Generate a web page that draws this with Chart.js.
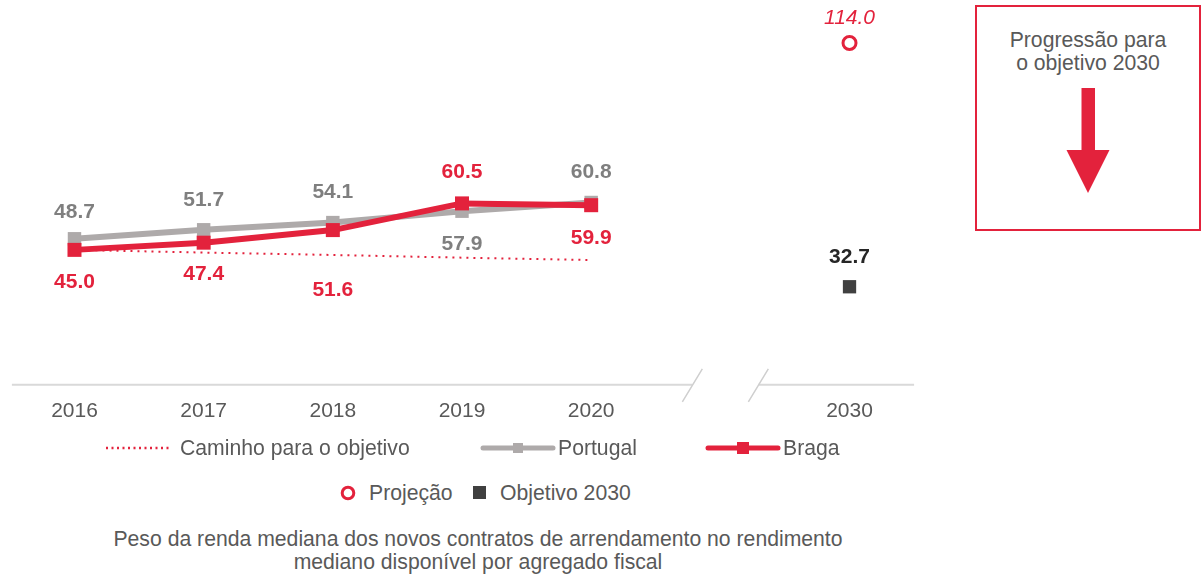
<!DOCTYPE html>
<html>
<head>
<meta charset="utf-8">
<script src="https://cdn.jsdelivr.net/npm/chart.js@4.4.0/dist/chart.umd.min.js"></script>
<style>
  html, body { margin: 0; padding: 0; background: #fff; }
  body { width: 1203px; height: 577px; position: relative; overflow: hidden; font-family: "Liberation Sans", Arial, sans-serif; color: #595959; }
  #wrap { position: absolute; left: 0; top: 0; width: 924px; height: 438px; }
  .lg { position: absolute; font-size: 21.2px; line-height: 24px; white-space: nowrap; color: #595959; }
  .sym { position: absolute; }
  #caption { position: absolute; left: 0; top: 527px; width: 956px; text-align: center; font-family: "Liberation Sans", Arial, sans-serif; font-size: 21.2px; line-height: 23px; color: #595959; }
  #box { position: absolute; left: 975px; top: 5px; width: 226px; height: 226px; box-sizing: border-box; border: 2px solid #E3223C; text-align: center; }
  #box .t { margin-top: 21px; font-size: 21.2px; line-height: 23px; color: #595959; }
</style>
</head>
<body>
<div id="wrap"><canvas id="c"></canvas></div>

<div class="sym" style="left:104px;top:440px;"><svg width="70" height="16"><line x1="2" y1="8" x2="68" y2="8" stroke="#E3223C" stroke-width="2.5" stroke-dasharray="2,3.5"/></svg></div>
<div class="lg" style="left:180px;top:436px;">Caminho para o objetivo</div>

<div class="sym" style="left:478px;top:440px;"><svg width="80" height="16"><line x1="5" y1="8" x2="75" y2="8" stroke="#AEAAAA" stroke-width="5" stroke-linecap="round"/><rect x="35" y="3" width="10" height="10" fill="#AEAAAA"/></svg></div>
<div class="lg" style="left:558px;top:436px;">Portugal</div>

<div class="sym" style="left:703px;top:440px;"><svg width="80" height="16"><line x1="5" y1="8" x2="75" y2="8" stroke="#E3223C" stroke-width="5" stroke-linecap="round"/><rect x="34" y="2" width="12" height="12" fill="#E3223C"/></svg></div>
<div class="lg" style="left:783px;top:436px;">Braga</div>

<div class="sym" style="left:339px;top:484px;"><svg width="18" height="18"><circle cx="9" cy="9" r="5.8" fill="#fff" stroke="#E3223C" stroke-width="3"/></svg></div>
<div class="lg" style="left:369px;top:481px;">Projeção</div>

<div class="sym" style="left:473px;top:486px;"><svg width="14" height="14"><rect x="0" y="0" width="13" height="13" fill="#404040"/></svg></div>
<div class="lg" style="left:500px;top:481px;">Objetivo 2030</div>

<div id="caption">Peso da renda mediana dos novos contratos de arrendamento no rendimento<br>mediano disponível por agregado fiscal</div>

<div id="box">
  <div class="t">Progressão para<br>o objetivo 2030</div>
  <svg style="position:absolute;left:0;top:0;" width="222" height="222">
    <rect x="104.5" y="81" width="13.5" height="63" fill="#E3223C"/>
    <polygon points="89.5,143 132.5,143 111,186" fill="#E3223C"/>
  </svg>
</div>

<script>
const categories = ['2016', '2017', '2018', '2019', '2020', '', '2030'];
const portugalValues = [48.7, 51.7, 54.1, 57.9, 60.8, null, null];
const bragaValues = [45.0, 47.4, 51.6, 60.5, 59.9, null, null];
const caminhoValues = [45.0, 44.1, 43.3, 42.4, 41.6, null, null];
const projecaoValues = [null, null, null, null, null, null, 114.0];
const objetivoValues = [null, null, null, null, null, null, 32.7];

const RED = '#E3223C';
const GREY = '#AEAAAA';
const FONT = '"Liberation Sans", Arial, sans-serif';

const labelPlugin = {
  id: 'pointLabels',
  afterDatasetsDraw(chart) {
    const ctx = chart.ctx;
    chart.data.datasets.forEach((ds, i) => {
      if (!ds.labelOffsets) return;
      const meta = chart.getDatasetMeta(i);
      ctx.save();
      ctx.font = ds.labelFont;
      ctx.fillStyle = ds.labelColor;
      ctx.textAlign = 'center';
      ctx.textBaseline = 'middle';
      meta.data.forEach((pt, j) => {
        const v = ds.data[j];
        if (v === null || v === undefined) return;
        ctx.fillText(v.toFixed(1), pt.x, pt.y + ds.labelOffsets[j]);
      });
      ctx.restore();
    });
  }
};

const axisPlugin = {
  id: 'brokenAxis',
  beforeDatasetsDraw(chart) {
    const ctx = chart.ctx;
    const x = chart.scales.x, y = chart.scales.y;
    const y0 = y.getPixelForValue(0);
    const gap = x.getPixelForValue(5);
    const left = chart.chartArea.left + 2;
    const right = chart.chartArea.right;
    const b1 = gap - 28, b2 = gap + 38;
    ctx.save();
    ctx.strokeStyle = '#D9D9D9';
    ctx.lineWidth = 2;
    ctx.beginPath();
    ctx.moveTo(left, y0); ctx.lineTo(b1, y0);
    ctx.moveTo(b2, y0); ctx.lineTo(right, y0);
    ctx.stroke();
    ctx.strokeStyle = '#CFCFCF';
    ctx.lineWidth = 1.5;
    ctx.beginPath();
    ctx.moveTo(b1 + 10, y0 - 16); ctx.lineTo(b1 - 10, y0 + 17);
    ctx.moveTo(b2 + 10, y0 - 16); ctx.lineTo(b2 - 10, y0 + 17);
    ctx.stroke();
    ctx.restore();
  }
};

new Chart(document.getElementById('c'), {
  type: 'line',
  data: {
    labels: categories,
    datasets: [
      {
        label: 'Braga', data: bragaValues,
        borderColor: RED, backgroundColor: RED, borderWidth: 6,
        pointStyle: 'rect', pointRadius: 9.9, pointBorderWidth: 0,
        tension: 0,
        labelOffsets: [32, 32, 60, -31, 33],
        labelFont: 'bold 21px ' + FONT, labelColor: RED
      },
      {
        label: 'Portugal', data: portugalValues,
        borderColor: GREY, backgroundColor: GREY, borderWidth: 6,
        pointStyle: 'rect', pointRadius: 9.5, pointBorderWidth: 0,
        tension: 0,
        labelOffsets: [-27, -30, -30, 33, -30],
        labelFont: 'bold 21px ' + FONT, labelColor: '#7F7F7F'
      },
      {
        label: 'Caminho para o objetivo', data: caminhoValues,
        borderColor: RED, borderWidth: 2, borderDash: [2, 5],
        pointRadius: 0, tension: 0
      },
      {
        label: 'Projeção', data: projecaoValues,
        borderColor: RED, backgroundColor: '#fff', showLine: false,
        pointStyle: 'circle', pointRadius: 6.5, pointBorderWidth: 3,
        labelOffsets: [0, 0, 0, 0, 0, 0, -25],
        labelFont: 'italic 21px ' + FONT, labelColor: RED
      },
      {
        label: 'Objetivo 2030', data: objetivoValues,
        borderColor: '#404040', backgroundColor: '#404040', showLine: false,
        pointStyle: 'rect', pointRadius: 9.4, pointBorderWidth: 0,
        labelOffsets: [0, 0, 0, 0, 0, 0, -30],
        labelFont: 'bold 21px ' + FONT, labelColor: '#262626'
      }
    ]
  },
  options: {
    responsive: true,
    maintainAspectRatio: false,
    animation: false,
    clip: false,
    layout: { padding: { left: 8, right: 5.5, top: 10, bottom: 0 } },
    plugins: { legend: { display: false }, tooltip: { enabled: false } },
    scales: {
      x: {
        type: 'category',
        offset: true,
        grid: { display: false, drawTicks: false },
        border: { display: false },
        ticks: {
          color: '#595959', padding: 14, autoSkip: false, maxRotation: 0,
          font: { family: FONT, size: 21 }
        }
      },
      y: {
        display: false,
        min: 0, max: 125
      }
    }
  },
  plugins: [axisPlugin, labelPlugin]
});
</script>
</body>
</html>
